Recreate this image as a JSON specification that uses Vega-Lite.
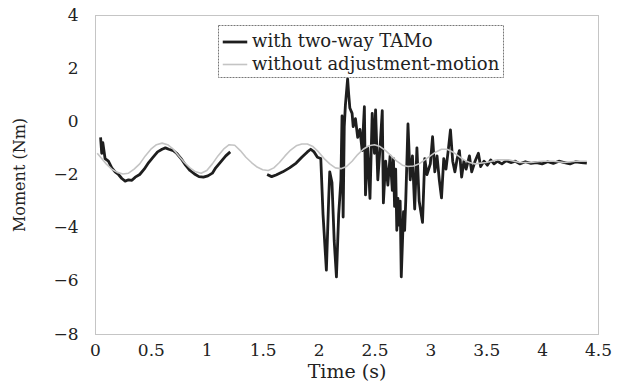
{
  "$schema": "https://vega.github.io/schema/vega-lite/v6.json",
  "autosize": {"type": "none"},
  "padding": {"left": 95, "top": 15, "right": 24, "bottom": 55},
  "width": 503,
  "height": 319,
  "background": "white",
  "config": {
    "view": {"stroke": "#8a8a8a", "strokeDash": [1, 1], "strokeWidth": 1},
    "font": "DejaVu Serif"
  },
  "datasets": {
    "d": [
      {"series": "with two-way TAMo", "seg": "a", "t": 0.05, "m": -0.6},
      {"series": "with two-way TAMo", "seg": "a", "t": 0.06, "m": -1.2},
      {"series": "with two-way TAMo", "seg": "a", "t": 0.07, "m": -0.8},
      {"series": "with two-way TAMo", "seg": "a", "t": 0.09, "m": -1.4},
      {"series": "with two-way TAMo", "seg": "a", "t": 0.12, "m": -1.5},
      {"series": "with two-way TAMo", "seg": "a", "t": 0.15, "m": -1.75},
      {"series": "with two-way TAMo", "seg": "a", "t": 0.18, "m": -1.9},
      {"series": "with two-way TAMo", "seg": "a", "t": 0.21, "m": -2.0},
      {"series": "with two-way TAMo", "seg": "a", "t": 0.24, "m": -2.15},
      {"series": "with two-way TAMo", "seg": "a", "t": 0.27, "m": -2.25},
      {"series": "with two-way TAMo", "seg": "a", "t": 0.30, "m": -2.2},
      {"series": "with two-way TAMo", "seg": "a", "t": 0.33, "m": -2.22},
      {"series": "with two-way TAMo", "seg": "a", "t": 0.36, "m": -2.1},
      {"series": "with two-way TAMo", "seg": "a", "t": 0.40, "m": -2.0},
      {"series": "with two-way TAMo", "seg": "a", "t": 0.44, "m": -1.8},
      {"series": "with two-way TAMo", "seg": "a", "t": 0.48, "m": -1.55},
      {"series": "with two-way TAMo", "seg": "a", "t": 0.52, "m": -1.35},
      {"series": "with two-way TAMo", "seg": "a", "t": 0.56, "m": -1.15},
      {"series": "with two-way TAMo", "seg": "a", "t": 0.60, "m": -1.05},
      {"series": "with two-way TAMo", "seg": "a", "t": 0.63, "m": -1.0},
      {"series": "with two-way TAMo", "seg": "a", "t": 0.66, "m": -1.05},
      {"series": "with two-way TAMo", "seg": "a", "t": 0.70, "m": -1.1},
      {"series": "with two-way TAMo", "seg": "a", "t": 0.73, "m": -1.2},
      {"series": "with two-way TAMo", "seg": "a", "t": 0.77, "m": -1.4},
      {"series": "with two-way TAMo", "seg": "a", "t": 0.81, "m": -1.65},
      {"series": "with two-way TAMo", "seg": "a", "t": 0.85, "m": -1.85},
      {"series": "with two-way TAMo", "seg": "a", "t": 0.89, "m": -1.98},
      {"series": "with two-way TAMo", "seg": "a", "t": 0.93, "m": -2.08},
      {"series": "with two-way TAMo", "seg": "a", "t": 0.97, "m": -2.1},
      {"series": "with two-way TAMo", "seg": "a", "t": 1.01, "m": -2.05},
      {"series": "with two-way TAMo", "seg": "a", "t": 1.05, "m": -1.95},
      {"series": "with two-way TAMo", "seg": "a", "t": 1.08, "m": -1.75},
      {"series": "with two-way TAMo", "seg": "a", "t": 1.11, "m": -1.6},
      {"series": "with two-way TAMo", "seg": "a", "t": 1.14, "m": -1.45},
      {"series": "with two-way TAMo", "seg": "a", "t": 1.17, "m": -1.3},
      {"series": "with two-way TAMo", "seg": "a", "t": 1.21, "m": -1.15},
      {"series": "with two-way TAMo", "seg": "b", "t": 1.54, "m": -2.0},
      {"series": "with two-way TAMo", "seg": "b", "t": 1.58, "m": -2.08},
      {"series": "with two-way TAMo", "seg": "b", "t": 1.62, "m": -2.02},
      {"series": "with two-way TAMo", "seg": "b", "t": 1.68, "m": -1.9},
      {"series": "with two-way TAMo", "seg": "b", "t": 1.74, "m": -1.75},
      {"series": "with two-way TAMo", "seg": "b", "t": 1.80, "m": -1.57},
      {"series": "with two-way TAMo", "seg": "b", "t": 1.85, "m": -1.35},
      {"series": "with two-way TAMo", "seg": "b", "t": 1.90, "m": -1.15},
      {"series": "with two-way TAMo", "seg": "b", "t": 1.93, "m": -1.05},
      {"series": "with two-way TAMo", "seg": "b", "t": 1.96, "m": -1.15},
      {"series": "with two-way TAMo", "seg": "b", "t": 1.99, "m": -1.35},
      {"series": "with two-way TAMo", "seg": "b", "t": 2.02, "m": -1.4},
      {"series": "with two-way TAMo", "seg": "b", "t": 2.04, "m": -3.5},
      {"series": "with two-way TAMo", "seg": "b", "t": 2.07, "m": -5.6},
      {"series": "with two-way TAMo", "seg": "b", "t": 2.09, "m": -3.0},
      {"series": "with two-way TAMo", "seg": "b", "t": 2.10, "m": -1.9},
      {"series": "with two-way TAMo", "seg": "b", "t": 2.12, "m": -2.3},
      {"series": "with two-way TAMo", "seg": "b", "t": 2.14, "m": -4.5},
      {"series": "with two-way TAMo", "seg": "b", "t": 2.16, "m": -5.85},
      {"series": "with two-way TAMo", "seg": "b", "t": 2.18, "m": -3.5},
      {"series": "with two-way TAMo", "seg": "b", "t": 2.20, "m": -2.2},
      {"series": "with two-way TAMo", "seg": "b", "t": 2.21, "m": 0.2},
      {"series": "with two-way TAMo", "seg": "b", "t": 2.22, "m": -3.6},
      {"series": "with two-way TAMo", "seg": "b", "t": 2.23, "m": -0.2},
      {"series": "with two-way TAMo", "seg": "b", "t": 2.24, "m": 0.6},
      {"series": "with two-way TAMo", "seg": "b", "t": 2.26, "m": 1.6},
      {"series": "with two-way TAMo", "seg": "b", "t": 2.27, "m": 1.0},
      {"series": "with two-way TAMo", "seg": "b", "t": 2.28, "m": 0.5},
      {"series": "with two-way TAMo", "seg": "b", "t": 2.30, "m": 0.3},
      {"series": "with two-way TAMo", "seg": "b", "t": 2.31, "m": -0.2},
      {"series": "with two-way TAMo", "seg": "b", "t": 2.33, "m": 0.1},
      {"series": "with two-way TAMo", "seg": "b", "t": 2.35, "m": -0.6},
      {"series": "with two-way TAMo", "seg": "b", "t": 2.37, "m": -0.3},
      {"series": "with two-way TAMo", "seg": "b", "t": 2.39, "m": -1.1},
      {"series": "with two-way TAMo", "seg": "b", "t": 2.41, "m": 0.55},
      {"series": "with two-way TAMo", "seg": "b", "t": 2.42, "m": -2.77},
      {"series": "with two-way TAMo", "seg": "b", "t": 2.44, "m": -1.0},
      {"series": "with two-way TAMo", "seg": "b", "t": 2.46, "m": -2.9},
      {"series": "with two-way TAMo", "seg": "b", "t": 2.48, "m": 0.3},
      {"series": "with two-way TAMo", "seg": "b", "t": 2.50, "m": -1.2},
      {"series": "with two-way TAMo", "seg": "b", "t": 2.51, "m": 0.43},
      {"series": "with two-way TAMo", "seg": "b", "t": 2.53, "m": -2.2},
      {"series": "with two-way TAMo", "seg": "b", "t": 2.55, "m": -1.0},
      {"series": "with two-way TAMo", "seg": "b", "t": 2.57, "m": 0.4},
      {"series": "with two-way TAMo", "seg": "b", "t": 2.58, "m": -3.07},
      {"series": "with two-way TAMo", "seg": "b", "t": 2.60, "m": -1.5},
      {"series": "with two-way TAMo", "seg": "b", "t": 2.62, "m": -2.4},
      {"series": "with two-way TAMo", "seg": "b", "t": 2.64, "m": -1.3},
      {"series": "with two-way TAMo", "seg": "b", "t": 2.66, "m": -2.6},
      {"series": "with two-way TAMo", "seg": "b", "t": 2.67, "m": -1.4},
      {"series": "with two-way TAMo", "seg": "b", "t": 2.68, "m": -3.2},
      {"series": "with two-way TAMo", "seg": "b", "t": 2.69, "m": -1.8},
      {"series": "with two-way TAMo", "seg": "b", "t": 2.70, "m": -4.1},
      {"series": "with two-way TAMo", "seg": "b", "t": 2.71, "m": -2.9},
      {"series": "with two-way TAMo", "seg": "b", "t": 2.72, "m": -3.9},
      {"series": "with two-way TAMo", "seg": "b", "t": 2.73, "m": -3.0},
      {"series": "with two-way TAMo", "seg": "b", "t": 2.74, "m": -5.85},
      {"series": "with two-way TAMo", "seg": "b", "t": 2.76, "m": -3.4},
      {"series": "with two-way TAMo", "seg": "b", "t": 2.77, "m": -4.1},
      {"series": "with two-way TAMo", "seg": "b", "t": 2.78, "m": -3.0},
      {"series": "with two-way TAMo", "seg": "b", "t": 2.80, "m": -0.1},
      {"series": "with two-way TAMo", "seg": "b", "t": 2.82, "m": -2.2},
      {"series": "with two-way TAMo", "seg": "b", "t": 2.84, "m": -1.3},
      {"series": "with two-way TAMo", "seg": "b", "t": 2.86, "m": -3.3},
      {"series": "with two-way TAMo", "seg": "b", "t": 2.88, "m": -1.0},
      {"series": "with two-way TAMo", "seg": "b", "t": 2.90, "m": -3.0},
      {"series": "with two-way TAMo", "seg": "b", "t": 2.93, "m": -3.8},
      {"series": "with two-way TAMo", "seg": "b", "t": 2.95, "m": -1.4},
      {"series": "with two-way TAMo", "seg": "b", "t": 2.97, "m": -2.0},
      {"series": "with two-way TAMo", "seg": "b", "t": 3.00, "m": -1.6},
      {"series": "with two-way TAMo", "seg": "b", "t": 3.02, "m": -0.58},
      {"series": "with two-way TAMo", "seg": "b", "t": 3.04, "m": -1.9},
      {"series": "with two-way TAMo", "seg": "b", "t": 3.06, "m": -1.3},
      {"series": "with two-way TAMo", "seg": "b", "t": 3.08, "m": -2.2},
      {"series": "with two-way TAMo", "seg": "b", "t": 3.10, "m": -2.88},
      {"series": "with two-way TAMo", "seg": "b", "t": 3.12, "m": -1.4},
      {"series": "with two-way TAMo", "seg": "b", "t": 3.14, "m": -1.8},
      {"series": "with two-way TAMo", "seg": "b", "t": 3.16, "m": -1.1},
      {"series": "with two-way TAMo", "seg": "b", "t": 3.18, "m": -0.32},
      {"series": "with two-way TAMo", "seg": "b", "t": 3.20, "m": -1.5},
      {"series": "with two-way TAMo", "seg": "b", "t": 3.22, "m": -1.9},
      {"series": "with two-way TAMo", "seg": "b", "t": 3.24, "m": -1.4},
      {"series": "with two-way TAMo", "seg": "b", "t": 3.26, "m": -1.1},
      {"series": "with two-way TAMo", "seg": "b", "t": 3.28, "m": -2.1},
      {"series": "with two-way TAMo", "seg": "b", "t": 3.30, "m": -1.5},
      {"series": "with two-way TAMo", "seg": "b", "t": 3.32, "m": -1.8},
      {"series": "with two-way TAMo", "seg": "b", "t": 3.35, "m": -1.3},
      {"series": "with two-way TAMo", "seg": "b", "t": 3.37, "m": -1.9},
      {"series": "with two-way TAMo", "seg": "b", "t": 3.40, "m": -1.5},
      {"series": "with two-way TAMo", "seg": "b", "t": 3.43, "m": -1.2},
      {"series": "with two-way TAMo", "seg": "b", "t": 3.45, "m": -1.7},
      {"series": "with two-way TAMo", "seg": "b", "t": 3.48, "m": -1.5},
      {"series": "with two-way TAMo", "seg": "b", "t": 3.51, "m": -1.65},
      {"series": "with two-way TAMo", "seg": "b", "t": 3.54, "m": -1.45},
      {"series": "with two-way TAMo", "seg": "b", "t": 3.57, "m": -1.6},
      {"series": "with two-way TAMo", "seg": "b", "t": 3.60, "m": -1.5},
      {"series": "with two-way TAMo", "seg": "b", "t": 3.64, "m": -1.6},
      {"series": "with two-way TAMo", "seg": "b", "t": 3.68, "m": -1.48},
      {"series": "with two-way TAMo", "seg": "b", "t": 3.72, "m": -1.55},
      {"series": "with two-way TAMo", "seg": "b", "t": 3.76, "m": -1.5},
      {"series": "with two-way TAMo", "seg": "b", "t": 3.80, "m": -1.6},
      {"series": "with two-way TAMo", "seg": "b", "t": 3.85, "m": -1.52},
      {"series": "with two-way TAMo", "seg": "b", "t": 3.90, "m": -1.58},
      {"series": "with two-way TAMo", "seg": "b", "t": 3.95, "m": -1.55},
      {"series": "with two-way TAMo", "seg": "b", "t": 4.00, "m": -1.6},
      {"series": "with two-way TAMo", "seg": "b", "t": 4.05, "m": -1.52},
      {"series": "with two-way TAMo", "seg": "b", "t": 4.10, "m": -1.58},
      {"series": "with two-way TAMo", "seg": "b", "t": 4.15, "m": -1.5},
      {"series": "with two-way TAMo", "seg": "b", "t": 4.20, "m": -1.55},
      {"series": "with two-way TAMo", "seg": "b", "t": 4.25, "m": -1.6},
      {"series": "with two-way TAMo", "seg": "b", "t": 4.30, "m": -1.52},
      {"series": "with two-way TAMo", "seg": "b", "t": 4.35, "m": -1.55},
      {"series": "with two-way TAMo", "seg": "b", "t": 4.40, "m": -1.57},
      {"series": "without adjustment-motion", "seg": "c", "t": 0.02, "m": -1.2},
      {"series": "without adjustment-motion", "seg": "c", "t": 0.06, "m": -1.4},
      {"series": "without adjustment-motion", "seg": "c", "t": 0.10, "m": -1.6},
      {"series": "without adjustment-motion", "seg": "c", "t": 0.15, "m": -1.8},
      {"series": "without adjustment-motion", "seg": "c", "t": 0.20, "m": -1.92},
      {"series": "without adjustment-motion", "seg": "c", "t": 0.25, "m": -1.98},
      {"series": "without adjustment-motion", "seg": "c", "t": 0.30, "m": -1.95},
      {"series": "without adjustment-motion", "seg": "c", "t": 0.35, "m": -1.8},
      {"series": "without adjustment-motion", "seg": "c", "t": 0.40, "m": -1.6},
      {"series": "without adjustment-motion", "seg": "c", "t": 0.45, "m": -1.3},
      {"series": "without adjustment-motion", "seg": "c", "t": 0.50, "m": -1.05},
      {"series": "without adjustment-motion", "seg": "c", "t": 0.55, "m": -0.88},
      {"series": "without adjustment-motion", "seg": "c", "t": 0.60, "m": -0.82},
      {"series": "without adjustment-motion", "seg": "c", "t": 0.65, "m": -0.88},
      {"series": "without adjustment-motion", "seg": "c", "t": 0.70, "m": -1.05},
      {"series": "without adjustment-motion", "seg": "c", "t": 0.75, "m": -1.3},
      {"series": "without adjustment-motion", "seg": "c", "t": 0.80, "m": -1.55},
      {"series": "without adjustment-motion", "seg": "c", "t": 0.85, "m": -1.75},
      {"series": "without adjustment-motion", "seg": "c", "t": 0.90, "m": -1.9},
      {"series": "without adjustment-motion", "seg": "c", "t": 0.95, "m": -1.95},
      {"series": "without adjustment-motion", "seg": "c", "t": 1.00, "m": -1.85},
      {"series": "without adjustment-motion", "seg": "c", "t": 1.05, "m": -1.6},
      {"series": "without adjustment-motion", "seg": "c", "t": 1.10, "m": -1.3},
      {"series": "without adjustment-motion", "seg": "c", "t": 1.15, "m": -1.05},
      {"series": "without adjustment-motion", "seg": "c", "t": 1.20, "m": -0.88},
      {"series": "without adjustment-motion", "seg": "c", "t": 1.25, "m": -0.9},
      {"series": "without adjustment-motion", "seg": "c", "t": 1.30, "m": -1.1},
      {"series": "without adjustment-motion", "seg": "c", "t": 1.35, "m": -1.35},
      {"series": "without adjustment-motion", "seg": "c", "t": 1.40, "m": -1.55},
      {"series": "without adjustment-motion", "seg": "c", "t": 1.45, "m": -1.72},
      {"series": "without adjustment-motion", "seg": "c", "t": 1.50, "m": -1.82},
      {"series": "without adjustment-motion", "seg": "c", "t": 1.55, "m": -1.85},
      {"series": "without adjustment-motion", "seg": "c", "t": 1.60, "m": -1.75},
      {"series": "without adjustment-motion", "seg": "c", "t": 1.65, "m": -1.55},
      {"series": "without adjustment-motion", "seg": "c", "t": 1.70, "m": -1.3},
      {"series": "without adjustment-motion", "seg": "c", "t": 1.75, "m": -1.08},
      {"series": "without adjustment-motion", "seg": "c", "t": 1.80, "m": -0.92},
      {"series": "without adjustment-motion", "seg": "c", "t": 1.85, "m": -0.85},
      {"series": "without adjustment-motion", "seg": "c", "t": 1.90, "m": -0.85},
      {"series": "without adjustment-motion", "seg": "c", "t": 1.95, "m": -0.95},
      {"series": "without adjustment-motion", "seg": "c", "t": 2.00, "m": -1.15},
      {"series": "without adjustment-motion", "seg": "c", "t": 2.05, "m": -1.4},
      {"series": "without adjustment-motion", "seg": "c", "t": 2.10, "m": -1.6},
      {"series": "without adjustment-motion", "seg": "c", "t": 2.15, "m": -1.75},
      {"series": "without adjustment-motion", "seg": "c", "t": 2.20, "m": -1.78},
      {"series": "without adjustment-motion", "seg": "c", "t": 2.25, "m": -1.7},
      {"series": "without adjustment-motion", "seg": "c", "t": 2.30, "m": -1.5},
      {"series": "without adjustment-motion", "seg": "c", "t": 2.35, "m": -1.25},
      {"series": "without adjustment-motion", "seg": "c", "t": 2.40, "m": -1.05},
      {"series": "without adjustment-motion", "seg": "c", "t": 2.45, "m": -0.92},
      {"series": "without adjustment-motion", "seg": "c", "t": 2.50, "m": -0.88},
      {"series": "without adjustment-motion", "seg": "c", "t": 2.55, "m": -0.95},
      {"series": "without adjustment-motion", "seg": "c", "t": 2.60, "m": -1.1},
      {"series": "without adjustment-motion", "seg": "c", "t": 2.65, "m": -1.3},
      {"series": "without adjustment-motion", "seg": "c", "t": 2.70, "m": -1.5},
      {"series": "without adjustment-motion", "seg": "c", "t": 2.75, "m": -1.65},
      {"series": "without adjustment-motion", "seg": "c", "t": 2.80, "m": -1.7},
      {"series": "without adjustment-motion", "seg": "c", "t": 2.85, "m": -1.68},
      {"series": "without adjustment-motion", "seg": "c", "t": 2.90, "m": -1.6},
      {"series": "without adjustment-motion", "seg": "c", "t": 2.95, "m": -1.45},
      {"series": "without adjustment-motion", "seg": "c", "t": 3.00, "m": -1.3},
      {"series": "without adjustment-motion", "seg": "c", "t": 3.05, "m": -1.15},
      {"series": "without adjustment-motion", "seg": "c", "t": 3.10, "m": -1.05},
      {"series": "without adjustment-motion", "seg": "c", "t": 3.15, "m": -1.05},
      {"series": "without adjustment-motion", "seg": "c", "t": 3.20, "m": -1.15},
      {"series": "without adjustment-motion", "seg": "c", "t": 3.25, "m": -1.3},
      {"series": "without adjustment-motion", "seg": "c", "t": 3.30, "m": -1.45},
      {"series": "without adjustment-motion", "seg": "c", "t": 3.35, "m": -1.55},
      {"series": "without adjustment-motion", "seg": "c", "t": 3.40, "m": -1.6},
      {"series": "without adjustment-motion", "seg": "c", "t": 3.50, "m": -1.55},
      {"series": "without adjustment-motion", "seg": "c", "t": 3.60, "m": -1.45},
      {"series": "without adjustment-motion", "seg": "c", "t": 3.70, "m": -1.45},
      {"series": "without adjustment-motion", "seg": "c", "t": 3.80, "m": -1.55},
      {"series": "without adjustment-motion", "seg": "c", "t": 3.90, "m": -1.55},
      {"series": "without adjustment-motion", "seg": "c", "t": 4.00, "m": -1.5},
      {"series": "without adjustment-motion", "seg": "c", "t": 4.10, "m": -1.5},
      {"series": "without adjustment-motion", "seg": "c", "t": 4.20, "m": -1.55},
      {"series": "without adjustment-motion", "seg": "c", "t": 4.30, "m": -1.5},
      {"series": "without adjustment-motion", "seg": "c", "t": 4.40, "m": -1.5}
    ]
  },
  "data": {"name": "d"},
  "mark": {"type": "line", "strokeJoin": "round", "clip": true},
  "encoding": {
    "x": {
      "field": "t", "type": "quantitative",
      "scale": {"domain": [0, 4.5], "nice": false},
      "axis": {
        "title": "Time (s)", "values": [0, 0.5, 1, 1.5, 2, 2.5, 3, 3.5, 4, 4.5],
        "format": "~g", "grid": false, "domain": false, "ticks": false,
        "labelFontSize": 17, "labelColor": "#222", "labelPadding": 8,
        "labelFlush": false, "labelFont": "DejaVu Serif",
        "titleFont": "DejaVu Serif", "titleFontSize": 19, "titleFontWeight": "normal",
        "titleColor": "#222", "titlePadding": 4
      }
    },
    "y": {
      "field": "m", "type": "quantitative",
      "scale": {"domain": [-8, 4], "nice": false, "zero": false},
      "axis": {
        "title": "Moment (Nm)", "values": [-8, -6, -4, -2, 0, 2, 4],
        "grid": false, "domain": false, "ticks": false,
        "labelFontSize": 17, "labelColor": "#222", "labelPadding": 17,
        "labelFlush": false, "labelFont": "DejaVu Serif",
        "titleFont": "DejaVu Serif", "titleFontSize": 16, "titleFontWeight": "normal",
        "titleColor": "#222", "titlePadding": 25
      }
    },
    "color": {
      "field": "series", "type": "nominal",
      "scale": {"domain": ["with two-way TAMo", "without adjustment-motion"], "range": ["#1e1e1e", "#c4c4c4"]},
      "legend": {
        "title": null, "orient": "none", "legendX": 123, "legendY": 10,
        "symbolType": "stroke", "symbolSize": 600, "symbolStrokeWidth": 2.5,
        "labelFont": "DejaVu Serif", "labelFontSize": 18, "labelColor": "#222",
        "labelLimit": 400, "strokeColor": "#777",
        "padding": 3, "rowPadding": 0, "fillColor": "white", "labelOffset": 3,
        "encode": {"legend": {"update": {"strokeDash": {"value": [2, 1]}}}}
      }
    },
    "strokeWidth": {
      "field": "series", "type": "nominal",
      "scale": {"domain": ["with two-way TAMo", "without adjustment-motion"], "range": [2.8, 1.6]},
      "legend": null
    },
    "detail": {"field": "seg"}
  }
}
